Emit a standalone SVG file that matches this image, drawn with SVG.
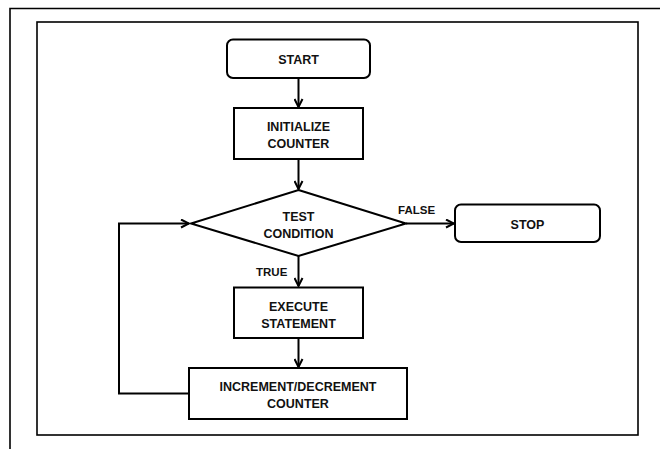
<svg xmlns="http://www.w3.org/2000/svg" width="660" height="449" viewBox="0 0 660 449">
  <style>
    .frame { fill: none; stroke: #000; stroke-width: 1.6; }
    .box { fill: #fff; stroke: #000; stroke-width: 2; }
    .wire { fill: none; stroke: #000; stroke-width: 2; }
    .label { font-family: "Liberation Sans", Arial, sans-serif; font-weight: bold; font-size: 12.5px; fill: #111; text-anchor: middle; }
    .tag { font-family: "Liberation Sans", Arial, sans-serif; font-weight: bold; font-size: 11.5px; fill: #111; }
  </style>
  <defs>
    <marker id="arrow" viewBox="0 0 10 10" refX="9" refY="5" markerWidth="10" markerHeight="10" markerUnits="userSpaceOnUse" orient="auto">
      <path d="M1,1 L9,5 L1,9" fill="none" stroke="#000" stroke-width="2"/>
    </marker>
  </defs>

  <rect width="660" height="449" fill="#fff"/>

  <!-- page borders -->
  <path class="frame" d="M10,449 V8.5 H660"/>
  <rect class="frame" x="37" y="22" width="601" height="413"/>

  <!-- connectors -->
  <g id="connectors">
    <line class="wire" x1="298.5" y1="78" x2="298.5" y2="107" marker-end="url(#arrow)"/>
    <line class="wire" x1="298.5" y1="159" x2="298.5" y2="189" marker-end="url(#arrow)"/>
    <line class="wire" x1="406" y1="223.5" x2="454" y2="223.5" marker-end="url(#arrow)"/>
    <line class="wire" x1="298.5" y1="256" x2="298.5" y2="286" marker-end="url(#arrow)"/>
    <line class="wire" x1="298.5" y1="338" x2="298.5" y2="367" marker-end="url(#arrow)"/>
    <polyline class="wire" points="189,393.5 119,393.5 119,223.5 189,223.5" marker-end="url(#arrow)"/>
    <text class="tag" x="256" y="276">TRUE</text>
    <text class="tag" x="398" y="214">FALSE</text>
  </g>

  <g id="start">
    <rect class="box" x="227" y="39.5" width="143" height="38.5" rx="6"/>
    <text class="label" x="298.5" y="64">START</text>
  </g>

  <g id="initialize">
    <rect class="box" x="234" y="108" width="129" height="51"/>
    <text class="label" x="298.5" y="130.5">INITIALIZE</text>
    <text class="label" x="298.5" y="147.5">COUNTER</text>
  </g>

  <g id="test">
    <polygon class="box" points="298.5,190 406,223.5 298.5,256 191,223.5"/>
    <text class="label" x="298.5" y="221">TEST</text>
    <text class="label" x="298.5" y="238">CONDITION</text>
  </g>

  <g id="stop">
    <rect class="box" x="455" y="204.5" width="145" height="37.5" rx="6"/>
    <text class="label" x="527.5" y="228.5">STOP</text>
  </g>

  <g id="execute">
    <rect class="box" x="234" y="287.5" width="129" height="50.5"/>
    <text class="label" x="298.5" y="310.5">EXECUTE</text>
    <text class="label" x="298.5" y="327.5">STATEMENT</text>
  </g>

  <g id="increment">
    <rect class="box" x="189" y="368" width="218" height="51"/>
    <text class="label" x="298" y="390.5">INCREMENT/DECREMENT</text>
    <text class="label" x="298" y="407.5">COUNTER</text>
  </g>
</svg>
